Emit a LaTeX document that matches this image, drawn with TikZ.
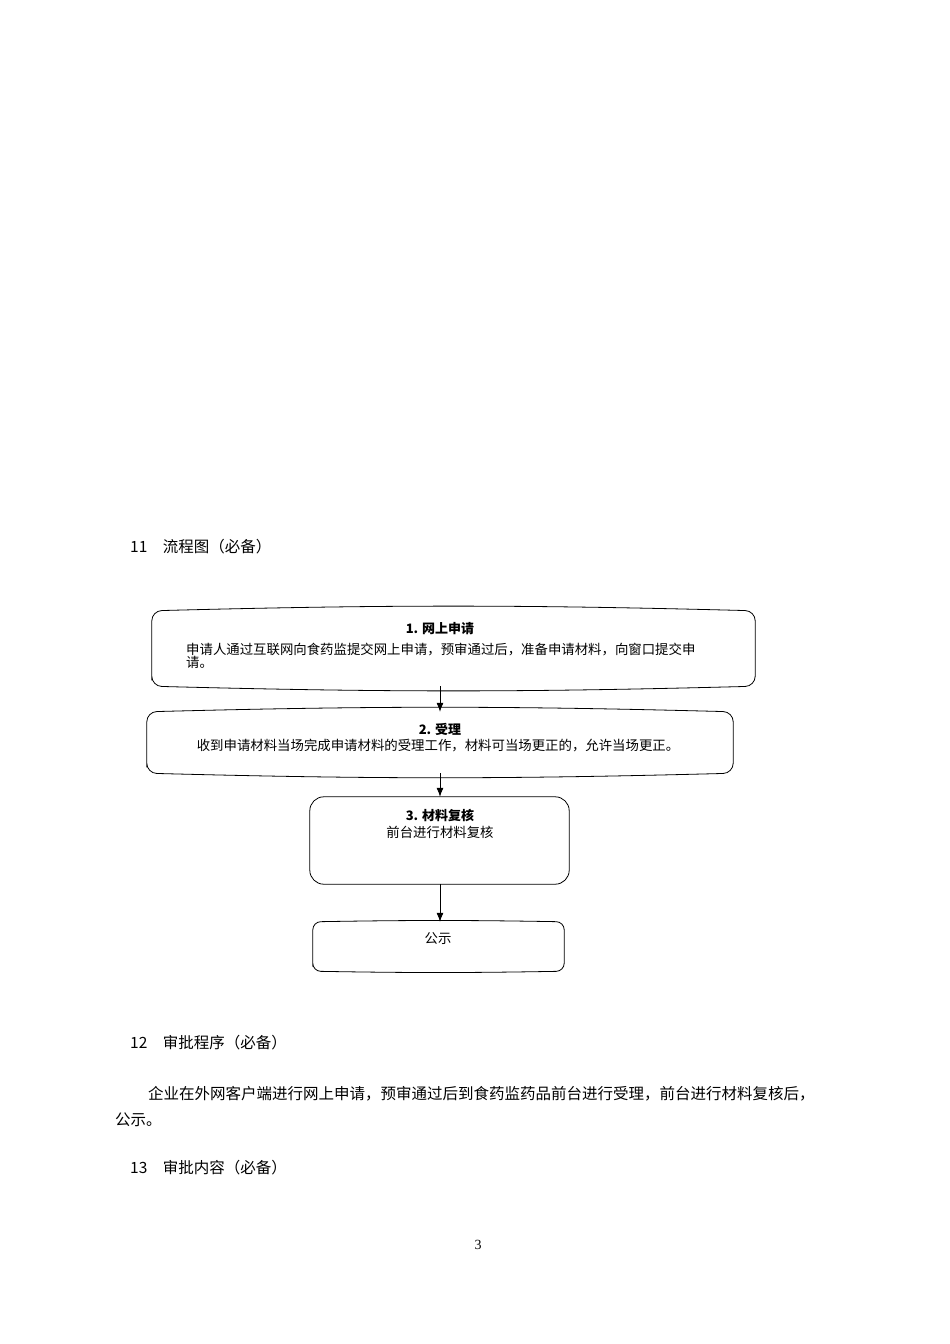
\documentclass[tikz,border=0pt]{standalone}
\usepackage{fontspec}
\setmainfont{Liberation Serif}
\newfontfamily\cjk{Noto Sans CJK SC}
\usetikzlibrary{arrows.meta}
\begin{document}
\begin{tikzpicture}[x=1pt,y=-1pt,
  box/.style={draw=none,inner sep=0pt,align=center},
  txt/.style={font=\cjk\fontsize{15.5}{18}\selectfont,inner sep=0pt,anchor=west},
  btxt/.style={font=\cjk\fontsize{13.4}{13}\selectfont,inner sep=0pt},
  bbtxt/.style={font=\cjk\bfseries\fontsize{13}{13}\selectfont,inner sep=0pt},
  arr/.style={-{Latex[length=9pt,width=7pt]},line width=0.8pt}]
\useasboundingbox (0,0) rectangle (950,1344);
\fill[white] (0,0) rectangle (950,1344);
\tikzset{bulge/.style={line width=0.8pt}}
\node[box,minimum width=603pt,minimum height=75pt] (b1) at (453.5,648.5) {};
\node[box,minimum width=586pt,minimum height=61pt] (b2) at (440,742.5) {};
\node[box,minimum width=259pt,minimum height=87pt] (b3) at (439.5,840.5) {};
\node[box,minimum width=251pt,minimum height=49pt] (b4) at (438.5,946.5) {};
\foreach \b in {b1,b2}{
  \draw[bulge,rounded corners=10pt] (\b.south west) -- (\b.north west) to[bend left=1.5] (\b.north east) -- (\b.south east) to[bend left=1.5] (\b.south west) -- cycle;}
\draw[bulge,rounded corners=14pt] (b3.south west) rectangle (b3.north east);
\draw[bulge,rounded corners=8pt] (b4.south west) -- (b4.north west) to[bend left=1] (b4.north east) -- (b4.south east) to[bend left=1] (b4.south west) -- cycle;
\node[bbtxt] (t1) at (440,629) {1. 网上申请};
\node[btxt,anchor=west,align=left] (d1) at (186,656) {申请人通过互联网向食药监提交网上申请，预审通过后，准备申请材料，向窗口提交申\\请。};
\node[bbtxt] (t2) at (440,729) {2. 受理};
\node[btxt] (d2) at (438,746) {收到申请材料当场完成申请材料的受理工作，材料可当场更正的，允许当场更正。};
\node[bbtxt] (t3) at (440,815) {3. 材料复核};
\node[btxt] (d3) at (440,832) {前台进行材料复核};
\node[btxt] (d4) at (438,939) {公示};
\draw[arr] (b2.north |- b1.south) -- (b2.north);
\draw[arr] (b2.south) -- (b2.south |- b3.north);
\draw[arr] (b2.south |- b3.south) -- (b2.south |- b4.north);
\node[txt] (h11) at (130,547) {11\quad 流程图（必备）};
\node[txt] (h12) at (130,1043) {12\quad 审批程序（必备）};
\node[txt] (p1) at (148,1094) {企业在外网客户端进行网上申请，预审通过后到食药监药品前台进行受理，前台进行材料复核后，};
\node[txt] (p2) at (115,1120) {公示。};
\node[txt] (h13) at (130,1168) {13\quad 审批内容（必备）};
\node[inner sep=0pt,font=\fontsize{14}{14}\selectfont] (pg) at (478,1245) {3};
\end{tikzpicture}
\end{document}
